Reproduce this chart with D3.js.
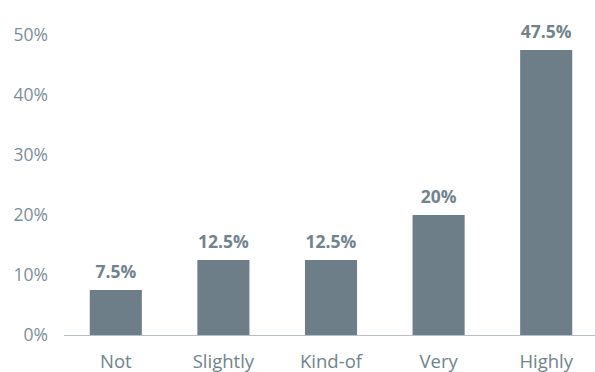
<!DOCTYPE html>
<html>
<head>
<meta charset="utf-8">
<script src="https://cdn.jsdelivr.net/npm/d3@7"></script>
<style>
  html, body { margin: 0; padding: 0; background: #fff; }
  svg { display: block; font-family: "Open Sans", sans-serif; }
</style>
</head>
<body>
<svg id="chart" width="595" height="372"></svg>
<script>
const categories = ["Not", "Slightly", "Kind-of", "Very", "Highly"];
const values = [7.5, 12.5, 12.5, 20, 47.5];
const valueLabels = ["7.5%", "12.5%", "12.5%", "20%", "47.5%"];
const yTicks = [0, 10, 20, 30, 40, 50];

const svg = d3.select("#chart");
const W = 595, H = 372;
const margin = { left: 62, right: -5, top: 35, bottom: 37 };

const x = d3.scaleBand()
  .domain(categories)
  .range([margin.left, W - margin.right])
  .paddingInner(0.516)
  .paddingOuter(0.258);

const y = d3.scaleLinear()
  .domain([0, 50])
  .range([H - margin.bottom, margin.top]);

const barColor = "#6d7e88";
const textColor = "#71838d";

// y-axis labels (no domain line, no ticks)
const yAxis = svg.append("g")
  .attr("transform", `translate(${48},0)`)
  .call(d3.axisLeft(y).tickValues(yTicks).tickFormat(d => d + "%").tickSize(0).tickPadding(0));
yAxis.select(".domain").remove();
yAxis.selectAll("text")
  .attr("fill", "#7c8d97")
  .style("font-size", "17.5px")
  .style("font-family", "'Open Sans', sans-serif");

// bars
svg.append("g").selectAll("rect")
  .data(values)
  .join("rect")
  .attr("x", (d, i) => x(categories[i]))
  .attr("y", d => y(d))
  .attr("width", x.bandwidth())
  .attr("height", d => y(0) - y(d))
  .attr("fill", barColor);

// baseline
svg.append("line")
  .attr("x1", 64).attr("x2", W)
  .attr("y1", y(0) + 0.5).attr("y2", y(0) + 0.5)
  .attr("stroke", "#b5bfc5")
  .attr("stroke-width", 1.2);

// value labels
svg.append("g").selectAll("text")
  .data(values)
  .join("text")
  .attr("x", (d, i) => x(categories[i]) + x.bandwidth() / 2)
  .attr("y", d => y(d) - 12)
  .attr("text-anchor", "middle")
  .attr("fill", textColor)
  .style("font-size", "17.5px")
  .style("font-weight", "700")
  .text((d, i) => valueLabels[i]);

// x-axis category labels
svg.append("g").selectAll("text")
  .data(categories)
  .join("text")
  .attr("x", d => x(d) + x.bandwidth() / 2)
  .attr("y", y(0) + 33)
  .attr("text-anchor", "middle")
  .attr("fill", textColor)
  .style("font-size", "18.5px")
  .text(d => d);
</script>
</body>
</html>
